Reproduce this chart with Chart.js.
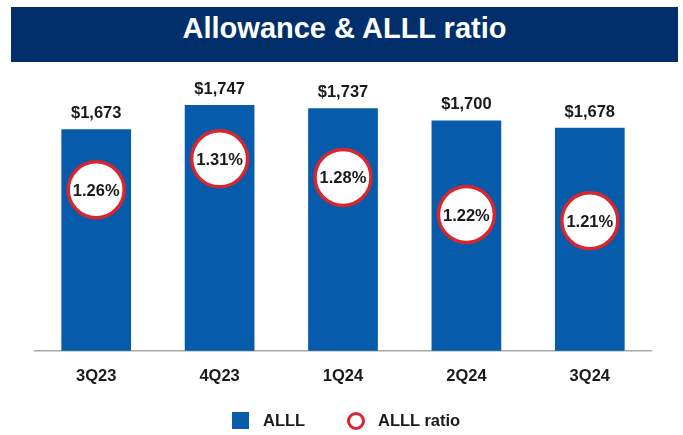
<!DOCTYPE html>
<html>
<head>
<meta charset="utf-8">
<script src="https://cdn.jsdelivr.net/npm/chart.js@4"></script>
<style>
  body { margin: 0; background: #fff; font-family: "Liberation Sans", Arial, sans-serif; }
  #wrap { position: relative; width: 683px; height: 435px; overflow: hidden; }
  #grafico { position: absolute; left: 0; top: 0; }
  .banner {
    position: absolute; left: 11px; top: 7px; width: 667px; height: 55px;
    box-sizing: border-box; padding-top: 5px;
    background: #002f6c; color: #fff; text-align: center;
    font-weight: bold; font-size: 29px; line-height: 32px;
  }
  .leyenda { position: absolute; top: 0; left: 0; font-weight: bold; font-size: 16.5px; color: #1a1a1a; }
  .leyenda span { position: absolute; white-space: nowrap; }
  .caja { width: 17px; height: 17px; background: #075bab; }
  .aro { width: 12px; height: 12px; border: 3px solid #d8262e; border-radius: 50%; background: #fff; }
</style>
</head>
<body>
<div id="wrap">
  <canvas id="grafico" width="683" height="435"></canvas>
  <div class="banner">Allowance &amp; ALLL ratio</div>
  <div class="leyenda">
    <span class="caja" style="left:232px; top:412px;"></span>
    <span style="left:263px; top:411px; line-height:19px;">ALLL</span>
    <span class="aro" style="left:347px; top:412px;"></span>
    <span style="left:378px; top:411px; line-height:19px;">ALLL ratio</span>
  </div>
</div>
<script>
// Trimestres y valores de la reserva (millones) y ratio ALLL (%)
const trimestres = ["3Q23", "4Q23", "1Q24", "2Q24", "3Q24"];
const reservaALLL = [1673, 1747, 1737, 1700, 1678];
const ratioALLL = [1.26, 1.31, 1.28, 1.22, 1.21];

const AZUL = "#075bab";
const ROJO = "#d8262e";
const TEXTO = "#1a1a1a";
const FUENTE = '"Liberation Sans", Arial, sans-serif';

// Etiquetas: importe sobre cada barra y porcentaje dentro de cada círculo
const etiquetas = {
    id: "etiquetas",
    afterDatasetsDraw(chart) {
        const ctx = chart.ctx;
        ctx.save();
        ctx.fillStyle = TEXTO;
        ctx.textAlign = "center";
        ctx.textBaseline = "alphabetic";
        ctx.font = "bold 16.5px " + FUENTE;

        chart.getDatasetMeta(0).data.forEach((barra, i) => {
            ctx.fillText("$" + reservaALLL[i].toLocaleString("en-US"), barra.x, barra.y - 11);
        });

        chart.getDatasetMeta(1).data.forEach((punto, i) => {
            ctx.fillText(ratioALLL[i].toFixed(2) + "%", punto.x, punto.y + 6);
        });
        ctx.restore();
    }
};

new Chart(document.getElementById("grafico"), {
    data: {
        labels: trimestres,
        datasets: [
            {
                type: "bar",
                label: "ALLL",
                data: reservaALLL,
                backgroundColor: AZUL,
                yAxisID: "y",
                order: 2,
                categoryPercentage: 1,
                barPercentage: 0.565
            },
            {
                type: "line",
                label: "ALLL ratio",
                data: ratioALLL,
                yAxisID: "y2",
                order: 1,
                showLine: false,
                pointRadius: 28,
                pointHoverRadius: 28,
                pointBorderWidth: 3.5,
                pointBackgroundColor: "#fff",
                pointBorderColor: ROJO
            }
        ]
    },
    options: {
        responsive: false,
        animation: false,
        devicePixelRatio: 1,
        layout: { padding: { left: 34.5, right: 28.5, top: 70, bottom: 0 } },
        plugins: {
            legend: { display: false },
            tooltip: { enabled: false }
        },
        scales: {
            x: {
                grid: { display: false },
                border: { color: "#a8a8a8", width: 1.5 },
                ticks: {
                    color: TEXTO,
                    padding: 8,
                    font: { family: FUENTE, size: 16.5, weight: "bold" }
                },
                afterFit(escala) { escala.height = 84.3; }
            },
            y: { display: false, min: 1000, max: 1853.5 },
            y2: { display: false, min: 1.0, max: 1.4535 }
        }
    },
    plugins: [etiquetas]
});
</script>
</body>
</html>
